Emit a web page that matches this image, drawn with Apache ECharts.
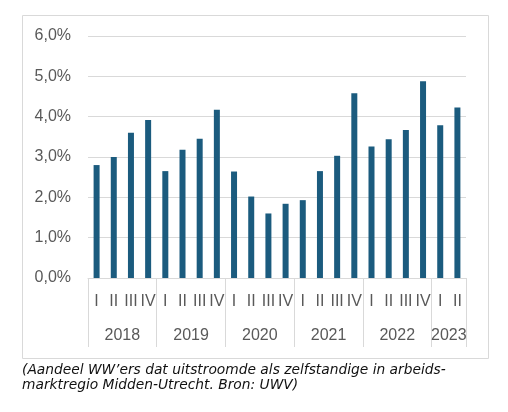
<!DOCTYPE html>
<html>
<head>
<meta charset="utf-8">
<script src="https://cdn.jsdelivr.net/npm/echarts@6/dist/echarts.min.js"></script>
<style>
html,body{margin:0;padding:0;background:#fff;}
#chart{width:508px;height:412px;}
</style>
</head>
<body>
<div id="chart"></div>
<script>
var quarters = ['I','II','III','IV','I','II','III','IV','I','II','III','IV','I','II','III','IV','I','II','III','IV','I','II'];
var values = [2.80,3.00,3.60,3.92,2.65,3.18,3.45,4.17,2.64,2.02,1.60,1.84,1.93,2.65,3.03,4.58,3.26,3.44,3.67,4.88,3.79,4.23];
var years = ['2018','2019','2020','2021','2022','2023'];
var yearSizes = [4,4,4,4,4,2];
var yTicks = [0,1,2,3,4,5,6];

var bounds = [0], centers = [], acc = 0;
yearSizes.forEach(function(s){ centers.push(acc + s/2); acc += s; bounds.push(acc); });

var chart = echarts.init(document.getElementById('chart'));
var gray = '#595959', lineC = '#d9d9d9', fontF = '"Liberation Sans", Arial, sans-serif';
chart.setOption({
  animation: false,
  grid: {left: 88, right: 42, top: 36, bottom: 134, containLabel: false},
  xAxis: [{
    type: 'category',
    data: quarters,
    axisLine: {show: true, lineStyle: {color: lineC, width: 1}},
    axisTick: {show: false},
    axisLabel: {interval: 0, margin: 16, color: gray, fontSize: 16, fontFamily: fontF, hideOverlap: false}
  }, {
    type: 'value',
    min: 0, max: quarters.length,
    position: 'bottom',
    axisLine: {show: false},
    splitLine: {show: false},
    axisTick: {show: true, customValues: bounds, length: 69, inside: false, lineStyle: {color: lineC, width: 1}},
    axisLabel: {customValues: centers, margin: 50, color: gray, fontSize: 16, fontFamily: fontF,
      formatter: function(v){ var i = centers.indexOf(v); return i >= 0 ? years[i] : ''; }}
  }],
  yAxis: {
    type: 'value', min: yTicks[0], max: yTicks[yTicks.length-1], interval: 1,
    axisLine: {show: false}, axisTick: {show: false},
    splitLine: {lineStyle: {color: lineC, width: 1}},
    axisLabel: {margin: 17, color: gray, fontSize: 16, fontFamily: fontF,
      formatter: function(v){ return v.toFixed(1).replace('.', ',') + '%'; }}
  },
  series: [{
    type: 'bar', xAxisIndex: 0, data: values, barWidth: 6,
    itemStyle: {color: '#1b5b7e'}
  }],
  graphic: [{
    type: 'rect', shape: {x: 22.5, y: 15.5, width: 466, height: 343},
    style: {fill: 'none', stroke: lineC, lineWidth: 1}, silent: true, z: -1
  }, {
    type: 'text', left: 22, top: 363,
    style: {text: '(Aandeel WW\u2019ers dat uitstroomde als zelfstandige in arbeids-\nmarktregio Midden-Utrecht. Bron: UWV)',
      font: 'italic 13.8px "DejaVu Sans", Verdana, sans-serif', fill: '#111', lineHeight: 15}
  }]
});
</script>
</body>
</html>
